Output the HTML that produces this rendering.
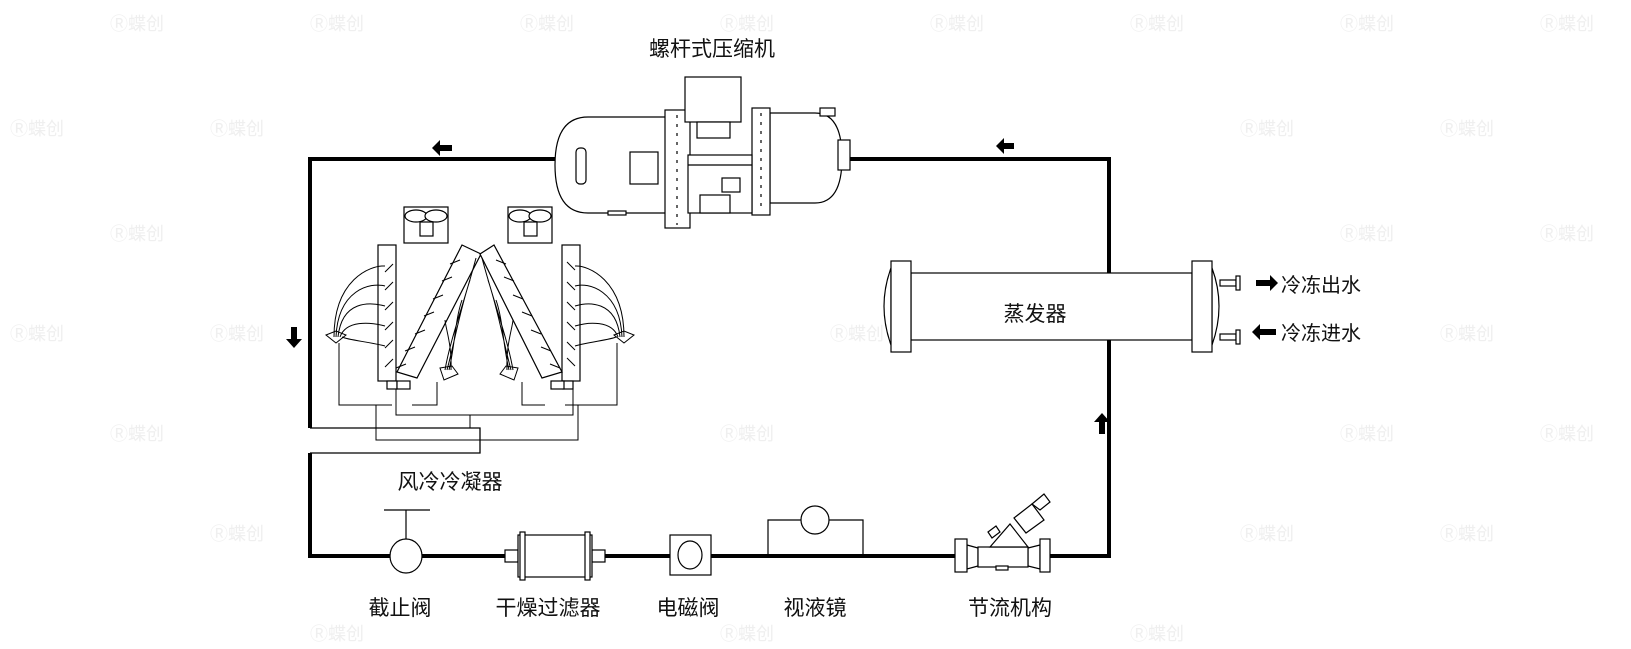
<!DOCTYPE html>
<html><head><meta charset="utf-8"><style>
html,body{margin:0;padding:0;background:#fff;}
svg{display:block;}
text{font-family:"Liberation Sans","Noto Sans CJK SC",sans-serif;fill:#111;}
g.wm text{fill:#efefef;font-size:18px;font-weight:normal;}
</style></head><body>
<svg width="1631" height="649" viewBox="0 0 1631 649" xmlns="http://www.w3.org/2000/svg">
<g class="wm">
<text x="110" y="30">Ⓡ蝶创</text><text x="310" y="30">Ⓡ蝶创</text><text x="520" y="30">Ⓡ蝶创</text><text x="720" y="30">Ⓡ蝶创</text><text x="930" y="30">Ⓡ蝶创</text><text x="1130" y="30">Ⓡ蝶创</text><text x="1340" y="30">Ⓡ蝶创</text><text x="1540" y="30">Ⓡ蝶创</text>
<text x="10" y="135">Ⓡ蝶创</text><text x="210" y="135">Ⓡ蝶创</text><text x="1240" y="135">Ⓡ蝶创</text><text x="1440" y="135">Ⓡ蝶创</text>
<text x="110" y="240">Ⓡ蝶创</text><text x="1340" y="240">Ⓡ蝶创</text><text x="1540" y="240">Ⓡ蝶创</text>
<text x="10" y="340">Ⓡ蝶创</text><text x="210" y="340">Ⓡ蝶创</text><text x="830" y="340">Ⓡ蝶创</text><text x="1440" y="340">Ⓡ蝶创</text>
<text x="110" y="440">Ⓡ蝶创</text><text x="720" y="440">Ⓡ蝶创</text><text x="1340" y="440">Ⓡ蝶创</text><text x="1540" y="440">Ⓡ蝶创</text>
<text x="210" y="540">Ⓡ蝶创</text><text x="1240" y="540">Ⓡ蝶创</text><text x="1440" y="540">Ⓡ蝶创</text>
<text x="310" y="640">Ⓡ蝶创</text><text x="720" y="640">Ⓡ蝶创</text><text x="1130" y="640">Ⓡ蝶创</text>
</g>

<!-- main loop -->
<g stroke="#000" stroke-width="4" fill="none">
<polyline points="310,428 310,159 645,159"/>
<polyline points="838,159 1109,159 1109,556 310,556 310,453"/>
</g>
<g stroke="#000" stroke-width="1.3" fill="none">
<polyline points="310,428 480,428 480,453 310,453"/>
</g>

<!-- arrows -->
<g fill="#000">
<polygon points="432,148 440,140 440,145 452,145 452,151 440,151 440,156"/>
<polygon points="996,146 1004,138 1004,143 1014,143 1014,149 1004,149 1004,154"/>
<polygon points="294,348 286,339 291,339 291,327 297,327 297,339 302,339"/>
<polygon points="1102,413 1094,422 1099,422 1099,434 1105,434 1105,422 1110,422"/>
<polygon points="1278,283 1270,275 1270,280 1256,280 1256,286 1270,286 1270,291"/>
<polygon points="1252,332 1260,324 1260,329 1276,329 1276,335 1260,335 1260,340"/>
</g>

<!-- compressor -->
<g stroke="#000" stroke-width="1.2" fill="#fff">
<path d="M667,117 L588,117 Q555,117 555,165 Q555,213 588,213 L667,213 Z"/>
<path d="M770,113 L815,113 Q842,113 842,158 Q842,203 815,203 L770,203 Z"/>
<rect x="820" y="108" width="15" height="8"/>
<rect x="665" y="110" width="25" height="118"/>
<rect x="752" y="108" width="18" height="107"/>
<rect x="688" y="155" width="64" height="58"/>
<rect x="685" y="77" width="56" height="45"/>
<rect x="697" y="122" width="33" height="16"/>
<rect x="576" y="148" width="10" height="36" rx="4"/>
<rect x="630" y="152" width="28" height="32"/>
<rect x="722" y="178" width="18" height="14"/>
<rect x="700" y="195" width="30" height="18"/>
<rect x="838" y="140" width="12" height="30"/>
<rect x="608" y="211" width="18" height="4"/>
</g>
<g stroke="#000" stroke-width="1.2" fill="none">
<line x1="688" y1="165" x2="752" y2="165"/>
<line x1="677" y1="115" x2="677" y2="225" stroke-dasharray="3,6"/>
<line x1="761" y1="113" x2="761" y2="212" stroke-dasharray="3,6"/>
</g>

<!-- condenser fans -->
<g stroke="#000" stroke-width="1.2" fill="#fff">
<rect x="404" y="207" width="44" height="36"/>
<ellipse cx="416" cy="216" rx="11" ry="6"/><ellipse cx="436" cy="216" rx="11" ry="6"/>
<rect x="420" y="222" width="13" height="14"/>
<rect x="508" y="207" width="44" height="36"/>
<ellipse cx="520" cy="216" rx="11" ry="6"/><ellipse cx="540" cy="216" rx="11" ry="6"/>
<rect x="524" y="222" width="13" height="14"/>
<rect x="378" y="245" width="18" height="136"/>
<rect x="562" y="245" width="18" height="136"/>
<polygon points="462,245 481,254 417,378 397,372"/>
<polygon points="494,245 480,254 542,378 562,372"/>
<rect x="387" y="381" width="10" height="8"/><rect x="397" y="381" width="13" height="8"/>
<rect x="563" y="381" width="10" height="8"/><rect x="551" y="381" width="13" height="8"/>
</g>
<g stroke="#000" stroke-width="1" fill="none">
<path d="M385,272 l8,-8 M385,290 l8,-8 M385,310 l8,-8 M385,330 l8,-8 M385,348 l8,-8 M385,367 l8,-8"/>
<path d="M567,262 l8,8 M567,282 l8,8 M567,302 l8,8 M567,322 l8,8 M567,342 l8,8 M567,358 l8,8"/>
<path d="M460,260 l-10,4 M452,277 l-10,4 M443,295 l-10,4 M434,312 l-10,4 M425,330 l-10,4 M415,347 l-10,4 M406,364 l-10,4"/>
<path d="M496,260 l10,4 M504,277 l10,4 M513,295 l10,4 M522,312 l10,4 M531,330 l10,4 M541,347 l10,4 M550,364 l10,4"/>
<path d="M334,337 C334,280 370,265 385,266 M336,337 C338,290 370,282 385,286 M338,337 C342,300 370,302 385,306 M340,337 C346,320 370,322 385,326 M342,337 C348,340 370,342 385,346"/>
<path d="M624,337 C624,280 588,265 575,266 M622,337 C620,290 588,282 575,286 M620,337 C616,300 588,302 575,306 M618,337 C612,320 588,322 575,326 M616,337 C610,340 588,342 575,346"/>
<path d="M445,370 C450,340 465,300 476,258 M447,370 C455,340 460,310 470,280 M449,370 C455,345 455,320 462,300 M451,370 C452,345 446,330 445,320"/>
<path d="M513,370 C508,340 493,300 482,258 M511,370 C503,340 498,310 488,280 M509,370 C503,345 503,320 496,300 M507,370 C506,345 512,330 513,320"/>
<path d="M326,335 l10,-4 10,4 -10,8 z M614,335 l10,-4 10,4 -10,8 z"/>
<path d="M440,368 l12,-2 6,8 -14,6 z M518,368 l-12,-2 -6,8 14,6 z"/>
<path d="M339,343 V405 H392 M412,405 H437 V382 M617,343 V405 H565 M545,405 H522 V382"/>
<path d="M396,389 V415 H573 V389 M470,415 V428 M376,405 V440 H578 V405 M376,440"/>
</g>

<!-- evaporator -->
<g stroke="#000" stroke-width="1.2" fill="#fff">
<path d="M891,268 Q877,306 891,345 Z"/>
<path d="M1212,268 Q1226,306 1212,345 Z"/>
<rect x="911" y="273" width="281" height="67"/>
<rect x="891" y="261" width="20" height="91"/>
<rect x="1192" y="261" width="20" height="91"/>
<rect x="1220" y="280" width="16" height="6"/><rect x="1236" y="276" width="4" height="14"/>
<rect x="1220" y="334" width="16" height="6"/><rect x="1236" y="330" width="4" height="14"/>
</g>

<!-- bottom components -->
<g stroke="#000" stroke-width="1.2" fill="#fff">
<line x1="406" y1="510" x2="406" y2="540"/><line x1="384" y1="510" x2="430" y2="510"/>
<ellipse cx="406" cy="556" rx="16" ry="17"/>
<rect x="505" y="550" width="13" height="12"/><rect x="592" y="550" width="13" height="12"/>
<rect x="518" y="535" width="74" height="42"/>
<rect x="520" y="532" width="5" height="48"/><rect x="585" y="532" width="5" height="48"/>
<rect x="670" y="535" width="41" height="40"/>
<ellipse cx="690" cy="555" rx="12" ry="14"/>
<polyline points="768,556 768,520 863,520 863,556" fill="none"/>
<circle cx="815" cy="520" r="14"/>
<polygon points="967,545 978,548 978,566 967,569"/>
<polygon points="1040,545 1028,548 1028,566 1040,569"/>
<rect x="978" y="547" width="50" height="20"/>
<rect x="996" y="566" width="12" height="4"/>
<rect x="955" y="539" width="12" height="33"/>
<rect x="1040" y="539" width="10" height="33"/>
<polygon points="990,547 1010,524 1028,547"/>
<polygon points="988,532 996,526 1000,532 992,538"/>
<polygon points="1014,518 1032,504 1044,520 1026,533"/>
<polygon points="1032,504 1044,494 1050,502 1040,510"/>
</g>

<!-- labels -->
<g font-size="21" text-anchor="middle">
<text x="712" y="56">螺杆式压缩机</text>
<text x="1035" y="321">蒸发器</text>
<text x="450" y="489">风冷冷凝器</text>
<text x="400" y="615">截止阀</text>
<text x="548" y="615">干燥过滤器</text>
<text x="688" y="615">电磁阀</text>
<text x="815" y="615">视液镜</text>
<text x="1010" y="615">节流机构</text>
</g>
<g font-size="20">
<text x="1281" y="292">冷冻出水</text>
<text x="1281" y="340">冷冻进水</text>
</g>
</svg>
</body></html>
